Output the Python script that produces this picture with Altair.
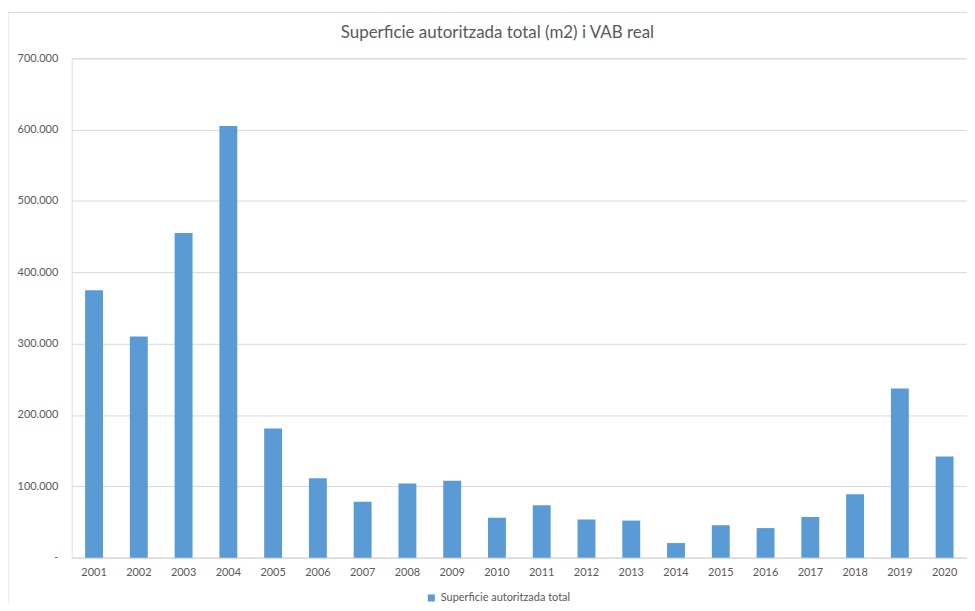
import altair as alt
import pandas as pd

years = [str(y) for y in range(2001, 2021)]
values = [375000, 310000, 455000, 605000, 181000, 111500, 78500, 104000, 108000, 56000,
          73500, 53500, 52000, 20500, 45500, 41500, 57000, 89000, 237000, 142000]
series_name = "Superficie autoritzada total"
title_text = "Superficie autoritzada total (m2) i VAB real"

df = pd.DataFrame({"year": years, "value": values, "serie": [series_name] * len(years)})
one = pd.DataFrame({"t": [title_text]})

FONT = "Lato"
GRAY = "#595959"

bars = alt.Chart(df).mark_bar(color="#5b9bd5").encode(
    x=alt.X("year:N", title=None, sort=years,
            scale=alt.Scale(paddingInner=0.6, paddingOuter=0.3),
            axis=alt.Axis(labelAngle=0, labelFontSize=11, labelColor=GRAY, labelFont=FONT,
                          tickSize=0, labelPadding=9, domainColor="#d9d9d9", grid=False)),
    y=alt.Y("value:Q", title=None,
            scale=alt.Scale(domain=[0, 700000], nice=False),
            axis=alt.Axis(values=[0, 100000, 200000, 300000, 400000, 500000, 600000, 700000],
                          labelExpr="datum.value == 0 ? '-' : replace(format(datum.value, ',.0f'), ',', '.')",
                          labelFontSize=11, labelColor=GRAY, labelFont=FONT, tickSize=0,
                          labelPadding=14, domain=False, gridColor="#d9d9d9")),
    color=alt.Color("serie:N", scale=alt.Scale(range=["#5b9bd5"]),
                    legend=alt.Legend(title=None, orient="none", legendX=356, legendY=537,
                                      direction="horizontal", symbolType="square",
                                      symbolSize=50, labelFontSize=11, labelColor=GRAY,
                                      labelFont=FONT, symbolStrokeWidth=0)),
)

frame_left = alt.Chart(one).mark_rule(color="#d9d9d9", strokeWidth=1, clip=False).encode(
    x=alt.value(-64), y=alt.value(-46), y2=alt.value(580))
frame_top = alt.Chart(one).mark_rule(color="#d9d9d9", strokeWidth=1, clip=False).encode(
    x=alt.value(-64), x2=alt.value(920), y=alt.value(-46))
title_mark = alt.Chart(one).mark_text(font=FONT, fontSize=17, fontWeight="normal", color=GRAY,
                                      align="center", baseline="middle", clip=False).encode(
    x=alt.value(428), y=alt.value(-25), text="t:N")

chart = alt.layer(frame_left, frame_top, title_mark, bars).properties(
    width=900, height=502,
    autosize=alt.AutoSizeParams(type="none"),
    padding={"left": 64, "top": 49, "right": 0, "bottom": 44},
).configure_view(stroke=None).configure(background="white")

chart.save("out.html", embed_options={"renderer": "svg", "actions": False})
